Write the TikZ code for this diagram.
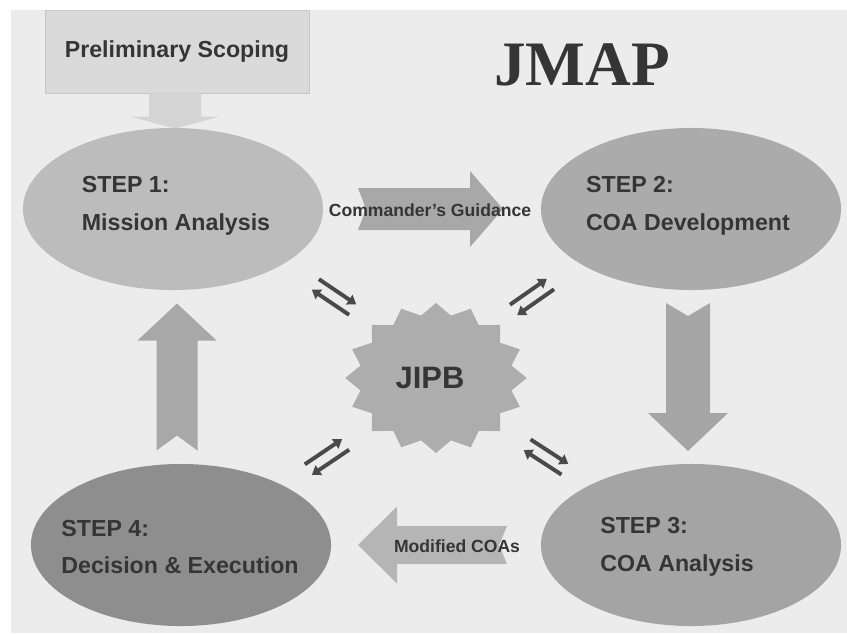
\documentclass[tikz,border=0pt]{standalone}
\usepackage{fontspec}
\setmainfont{Liberation Sans}
\newfontfamily\titlefont{Liberation Serif}
\usepackage{tikz}
\usetikzlibrary{shapes.geometric,arrows.meta,calc}

\definecolor{bggray}{HTML}{ECECEC}
\definecolor{boxgray}{HTML}{DADADA}
\definecolor{boxline}{HTML}{C6C6C6}
\definecolor{prelimarrow}{HTML}{D4D4D4}
\definecolor{stepone}{HTML}{BCBCBC}
\definecolor{steptwo}{HTML}{ABABAB}
\definecolor{stepthree}{HTML}{A4A4A4}
\definecolor{stepfour}{HTML}{8E8E8E}
\definecolor{stargray}{HTML}{ADADAD}
\definecolor{cmdarrow}{HTML}{A8A8A8}
\definecolor{downarrow}{HTML}{A6A6A6}
\definecolor{uparrow}{HTML}{A8A8A8}
\definecolor{modarrow}{HTML}{B5B5B5}
\definecolor{textdark}{HTML}{353535}
\definecolor{pairdark}{HTML}{4A4A4A}

\begin{document}
\begin{tikzpicture}[x=0.025cm,y=-0.025cm,
  stepnode/.style={ellipse,minimum width=7.5cm,minimum height=4.05cm,inner sep=0pt},
  steptext/.style={align=left,text=textdark,font=\bfseries\fontsize{16.5}{27}\selectfont},
  tagtext/.style={text=textdark,font=\bfseries\fontsize{12.5}{14}\selectfont},
  pairline/.style={line width=2.8pt,draw=pairdark,-{Triangle[length=6pt,width=8pt]}},
  pics/fatarrow/.style n args={5}{code={
    \path[pic actions] (-#1/2,-#2) -- (#1/2-#4,-#2) -- (#1/2-#4,-#3) -- (#1/2,0) -- (#1/2-#4,#3) -- (#1/2-#4,#2) -- (-#1/2,#2) -- (-#1/2+#5,0) -- cycle;
  }},
  pics/swap/.style={code={
    \draw[pairline] (-16pt,4.5pt) -- (16pt,4.5pt);
    \draw[pairline] (16pt,-4.5pt) -- (-16pt,-4.5pt);
  }}]
\useasboundingbox (0,0) rectangle (847,633);
\fill[white] (0,0) rectangle (847,633);
\fill[bggray] (11,10) rectangle (847,633);

\node[rectangle,minimum width=6.6cm,minimum height=2.075cm,fill=boxgray,draw=boxline,line width=0.6pt,text=textdark,font=\bfseries\fontsize{16.5}{20}\selectfont] (prelim) at (177,51.5) {Preliminary Scoping};
\node[text=textdark,font=\titlefont\bfseries\fontsize{45}{50}\selectfont,anchor=base] (title) at (582,85) {JMAP};

\draw (173,209) node[stepnode,fill=stepone] (S1) {} +(3,-3) node[steptext] (T1) {STEP 1:\\Mission Analysis};
\draw (691,209) node[stepnode,fill=steptwo] (S2) {} +(-3,-3) node[steptext] (T2) {STEP 2:\\COA Development};
\draw (691,545) node[stepnode,fill=stepthree] (S3) {} +(-14,2) node[steptext] (T3) {STEP 3:\\COA Analysis};
\draw (181,545) node[stepnode,fill=stepfour] (S4) {} +(-1,2) node[steptext] (T4) {STEP 4:\\Decision \& Execution};

\begin{scope}[shift={(436,378)},xscale=1.21]
\node[star,star points=16,star point ratio=1.18,minimum size=3.75cm,inner sep=0pt,fill=stargray,transform shape] (JIPB) {};
\end{scope}
\node[text=textdark,font=\bfseries\fontsize{22}{24}\selectfont] (jipbtext) at (430,378) {JIPB};

\pic[rotate=-90,fill=prelimarrow] at ($(prelim.south)!0.5!(S1.north)$) {fatarrow={36}{26}{44.5}{12}{0}};
\pic[fill=cmdarrow] at ($(S1)!0.5!(S2)+(-1.5,0)$) {fatarrow={145}{21}{38}{33}{8}};
\node[tagtext] (cmd) at (430,210) {Commander's Guidance};
\pic[rotate=-90,fill=downarrow] at ($(S2)!0.5!(S3)+(-3,0)$) {fatarrow={148}{22}{40}{38}{13}};
\pic[rotate=180,fill=modarrow] at ($(S3)!0.5!(S4)+(-3.5,0)$) {fatarrow={149}{19}{38.5}{39}{8}};
\node[tagtext] (mod) at (457,546) {Modified COAs};
\pic[rotate=90,fill=uparrow] at ($(S4)!0.5!(S1)$) {fatarrow={147}{20.5}{39.5}{37}{15}};

% JIPB exchanges
\pic[rotate=-34] at (334,297) {swap};
\pic[rotate=35] at (532,297) {swap};
\pic[rotate=34] at (327,457) {swap};
\pic[rotate=-33] at (546,457) {swap};

\end{tikzpicture}
\end{document}
